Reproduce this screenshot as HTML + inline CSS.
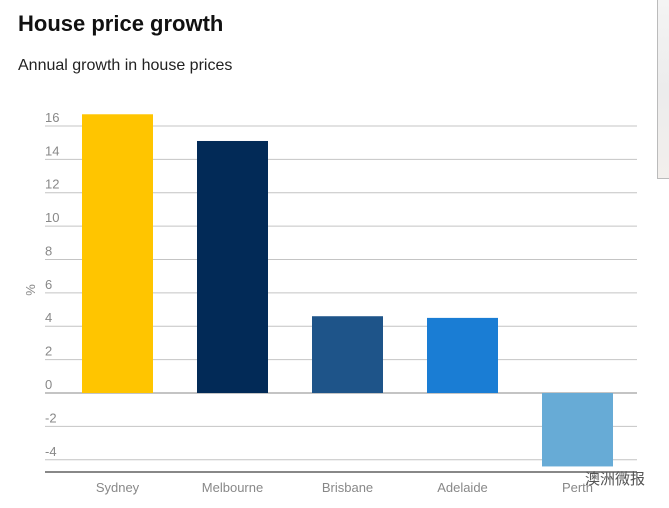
<!DOCTYPE html>
<html><head><meta charset="utf-8"><style>
html,body{margin:0;padding:0;background:#fff;width:669px;height:508px;overflow:hidden}
body{font-family:"Liberation Sans","Noto Sans CJK SC",sans-serif;position:relative}
#title{position:absolute;left:18px;top:11px;font-size:22px;font-weight:bold;color:#111;margin:0}
#sub{position:absolute;left:18px;top:57px;font-size:16px;color:#222}
#side{position:absolute;left:657px;top:0;width:12px;height:178px;background:linear-gradient(#f4f4f4,#ececec 50%,#f2efec);border-left:1px solid #bbb;border-bottom:1px solid #bbb}
svg{position:absolute;left:0;top:0}
</style></head><body>
<h1 id="title">House price growth</h1>
<div id="sub">Annual growth in house prices</div>
<div id="side"></div>
<svg id="chart" width="669" height="508"></svg>
<script>
const categories=["Sydney","Melbourne","Brisbane","Adelaide","Perth"];
const values=[16.7,15.1,4.6,4.5,-4.4];
const colors=["#ffc500","#022a57","#1e5489","#1a7dd4","#67abd6"];
const ticks=[-4,-2,0,2,4,6,8,10,12,14,16];
const NS="http://www.w3.org/2000/svg";
const svg=document.getElementById('chart');
const y0=393, unit=16.69;
function y(v){return y0-v*unit;}
function x(i){return 82+i*115;}
const bw=71;
function mk(t,a){const e=document.createElementNS(NS,t);for(const k in a)e.setAttribute(k,a[k]);svg.appendChild(e);return e;}
ticks.forEach(t=>{
  const l=mk('line',{x1:45,x2:637,y1:y(t),y2:y(t),stroke:t===0?'#888':'#c4c4c4','stroke-width':1});
  
  
  const tx=mk('text',{x:45,y:y(t)-4,'font-size':13,fill:'#888'});
  tx.textContent=t;
  
  
});
const yt=mk('text',{x:35,y:290,'font-size':13,fill:'#888',transform:'rotate(-90 35 290)','text-anchor':'middle'});
yt.textContent='%';


categories.forEach((c,i)=>{
  const v=values[i];
  const r=mk('rect',{x:x(i),y:Math.min(y(v),y0),width:bw,height:Math.abs(y(v)-y0),fill:colors[i]});
  
  
  const t=mk('text',{x:x(i)+bw/2,y:492,'font-size':13,fill:'#888','text-anchor':'middle'});
  t.textContent=c;
  
  
});
const ax=mk('line',{x1:45,x2:637,y1:472,y2:472,stroke:'#888','stroke-width':2});


const wm=mk('text',{x:585,y:484,'font-size':15,fill:'#555'});
wm.textContent='澳洲微报';


</script>
</body></html>
